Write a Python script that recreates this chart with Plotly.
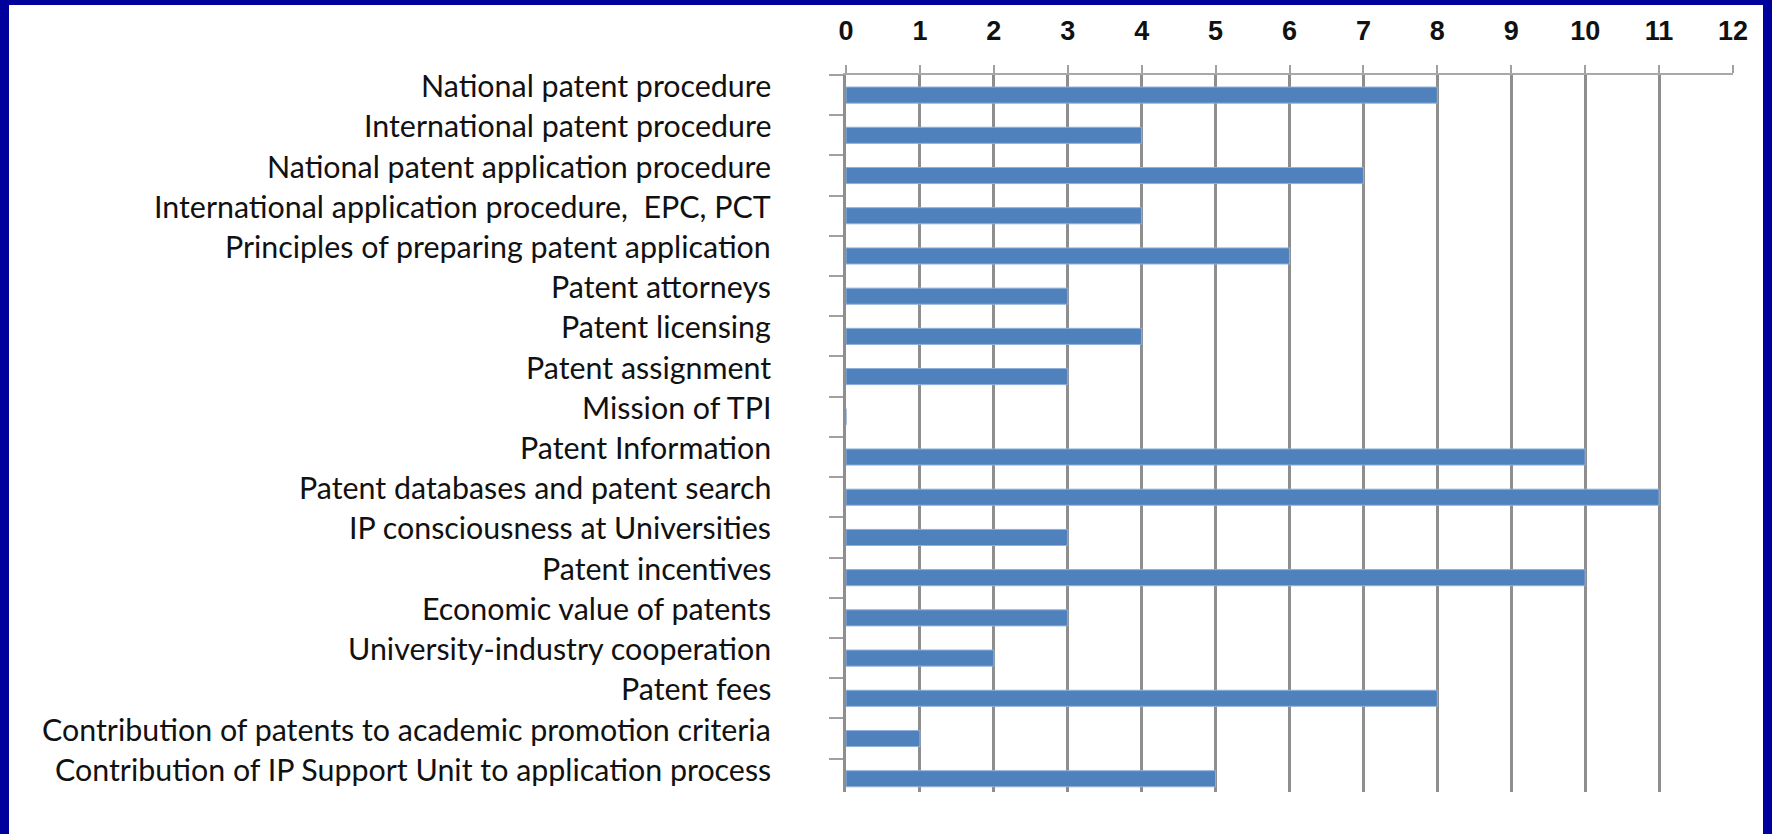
import plotly.graph_objects as go

categories = [
    "National patent procedure",
    "International patent procedure",
    "National patent application procedure",
    "International application procedure,  EPC, PCT",
    "Principles of preparing patent application",
    "Patent attorneys",
    "Patent licensing",
    "Patent assignment",
    "Mission of TPI",
    "Patent Information",
    "Patent databases and patent search",
    "IP consciousness at Universities",
    "Patent incentives",
    "Economic value of patents",
    "University-industry cooperation",
    "Patent fees",
    "Contribution of patents to academic promotion criteria",
    "Contribution of IP Support Unit to application process",
]
values = [8, 4, 7, 4, 6, 3, 4, 3, 0, 10, 11, 3, 10, 3, 2, 8, 1, 5]
x_ticks = list(range(0, 13))

W, H = 1772, 834
L, R, T, B = 846, 1733, 75, 792
pw, ph = R - L, B - T

def px_x(p):
    return (p - L) / pw

def px_y(p):
    return (B - p) / ph

fig = go.Figure()
fig.add_trace(go.Bar(
    x=values, y=categories, orientation="h",
    marker=dict(color="#4F81BD", line=dict(color="#8FB0DA", width=1)),
    width=0.4, hoverinfo="x+y",
))

navy = "#00009C"
shapes = [
    dict(type="rect", xref="paper", yref="paper", x0=px_x(0), x1=px_x(9), y0=px_y(H), y1=px_y(0),
         fillcolor=navy, line=dict(width=0), layer="above"),
    dict(type="rect", xref="paper", yref="paper", x0=px_x(0), x1=px_x(W), y0=px_y(5), y1=px_y(0),
         fillcolor=navy, line=dict(width=0), layer="above"),
    dict(type="rect", xref="paper", yref="paper", x0=px_x(1763), x1=px_x(W), y0=px_y(H), y1=px_y(0),
         fillcolor=navy, line=dict(width=0), layer="above"),
]

annotations = [
    dict(text=c, x=px_x(773), xref="paper", y=c, yref="y", xanchor="right", yanchor="middle",
         yshift=10, showarrow=False, font=dict(family="Lato", size=30.4, color="#111111"))
    for c in categories
]

fig.update_layout(
    width=W, height=H,
    margin=dict(l=L, r=W - R, t=T, b=H - B, pad=0, autoexpand=False),
    paper_bgcolor="white", plot_bgcolor="white",
    showlegend=False,
    shapes=shapes,
    annotations=annotations,
    xaxis=dict(
        side="top", range=[0, 12], tickvals=x_ticks, ticktext=[str(v) for v in x_ticks],
        showgrid=True, gridcolor="#8E8E8E", gridwidth=2.5,
        showline=True, linecolor="#A8A8A8", linewidth=2,
        ticks="outside", ticklen=8, tickwidth=2, tickcolor="#A0A0A0",
        ticklabelstandoff=14,
        tickfont=dict(family="Liberation Sans", size=27, color="#111111", weight="bold"),
        zeroline=False, fixedrange=True, automargin=False,
    ),
    yaxis=dict(
        type="category", categoryorder="array", categoryarray=categories,
        range=[len(categories) - 0.67, -0.5], autorange=False, tickson="boundaries",
        showticklabels=False, showgrid=False,
        showline=True, linecolor="#8E8E8E", linewidth=3,
        ticks="outside", ticklen=14, tickwidth=2, tickcolor="#A0A0A0",
        zeroline=False, fixedrange=True, automargin=False,
    ),
)

fig.write_html(
    "out.html",
    config={"displayModeBar": False},
    post_script="document.body.style.margin='0px';document.body.style.overflow='hidden';",
)
